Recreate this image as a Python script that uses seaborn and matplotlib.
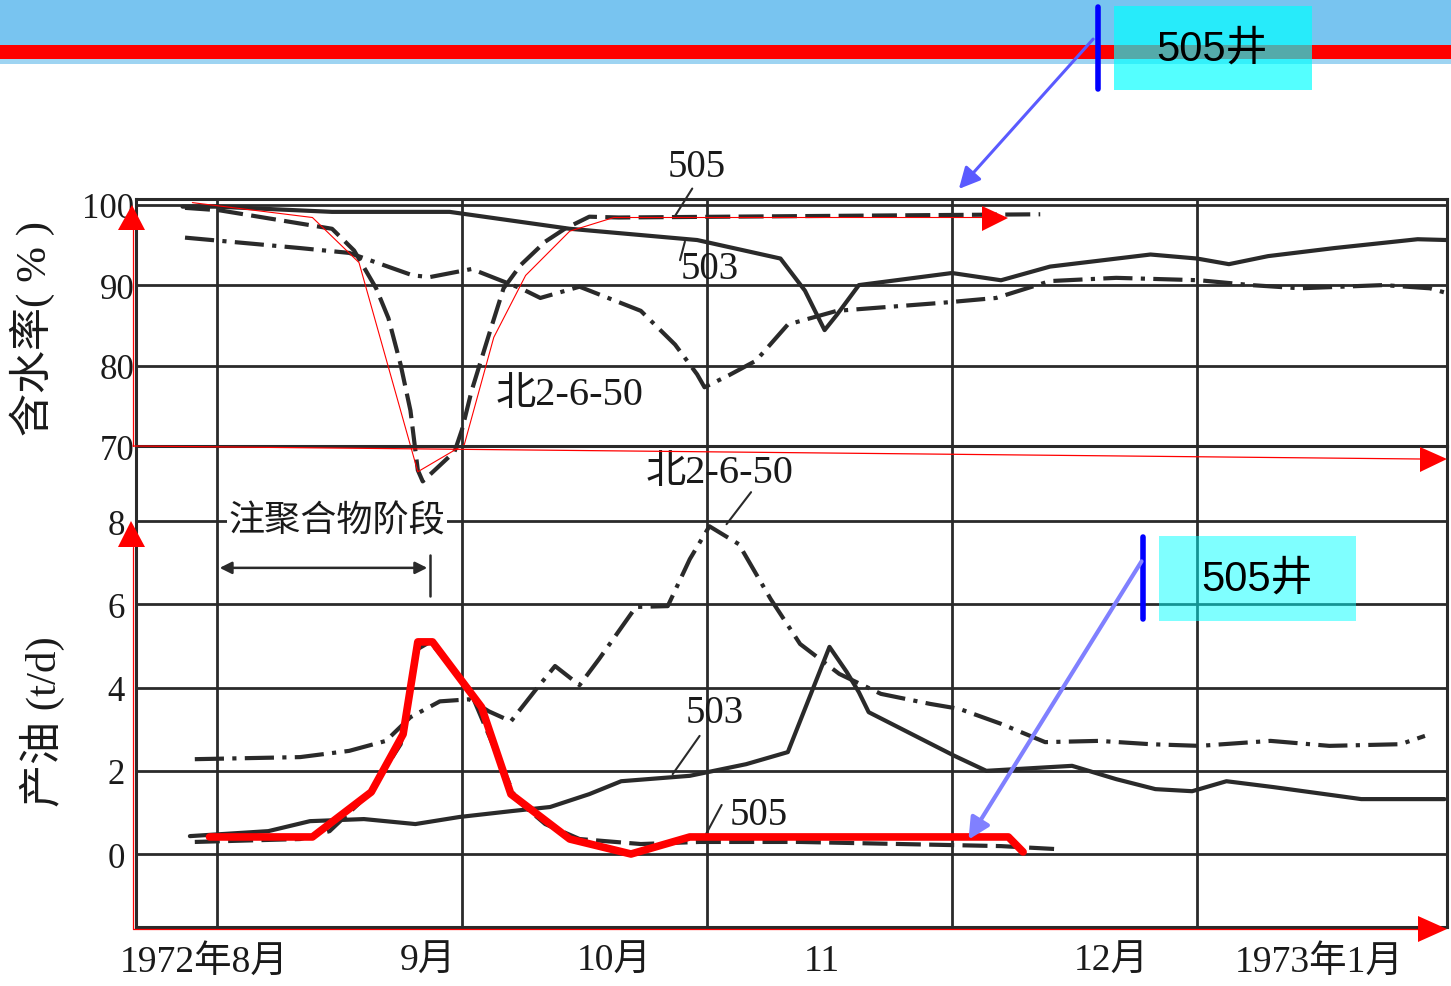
import numpy as np
import pandas as pd
import seaborn as sns
import matplotlib.pyplot as plt
from matplotlib.patches import Rectangle, Polygon

# x unit = one grid column (0 = the 1972-08 grid line)
month_pos = [-0.05, 0.86, 1.62, 2.47, 3.65, 4.50]
month_labels = ['1972年8月', '9月', '10月', '11', '12月', '1973年1月']
grid_x = [0, 1, 2, 3, 4]

# water cut (%) - upper panel
wc503_x = [-0.14, 0, 0.47, 0.95, 1.44, 1.96, 2.30, 2.40, 2.48, 2.53, 2.62, 3.0, 3.20, 3.40,
           3.81, 4.0, 4.13, 4.29, 4.56, 4.90, 5.02]
wc503_y = [99.75, 99.75, 99.1, 99.1, 97.0, 95.6, 93.3, 89.3, 84.4, 86.3, 90.0, 91.5, 90.6, 92.3,
           93.8, 93.3, 92.6, 93.6, 94.6, 95.7, 95.6]
wc505_x = [-0.13, 0.01, 0.47, 0.56, 0.65, 0.70, 0.75, 0.79, 0.82, 0.84, 0.97, 1.0, 1.04, 1.11,
           1.17, 1.24, 1.34, 1.42, 1.52, 1.64, 3.36]
wc505_y = [99.6, 99.3, 97.0, 94.3, 89.6, 85.9, 80.1, 74.4, 67.0, 65.6, 69.3, 72.0, 76.9, 83.8,
           89.6, 92.5, 95.4, 97.0, 98.5, 98.4, 98.8]
wcb_x = [-0.13, 0.34, 0.54, 0.80, 0.87, 1.04, 1.24, 1.32, 1.48, 1.73, 1.87, 1.96, 1.99, 2.09,
         2.20, 2.33, 2.53, 2.96, 3.18, 3.40, 3.67, 4.01, 4.22, 4.42, 4.76, 4.95, 5.02]
wcb_y = [95.9, 94.6, 94.0, 91.2, 91.0, 92.0, 89.6, 88.4, 89.8, 86.8, 82.6, 78.9, 77.3, 78.8,
         80.6, 85.1, 86.8, 87.8, 88.4, 90.5, 90.9, 90.6, 90.0, 89.6, 90.0, 89.6, 89.0]
# red hand trace of well 505
trace_x = [-0.10, 0.39, 0.58, 0.82, 1.01, 1.13, 1.26, 1.44, 1.62, 3.16]
trace_y = [100.25, 98.4, 92.8, 66.8, 70.2, 83.5, 91.2, 96.7, 98.4, 98.4]

# oil rate (t/d) - lower panel
oilb_x = [-0.09, 0.34, 0.54, 0.69, 0.79, 0.91, 1.03, 1.11, 1.20, 1.30, 1.38, 1.48, 1.56, 1.71,
          1.84, 1.93, 2.01, 2.13, 2.26, 2.38, 2.54, 2.71, 2.91, 3.03, 3.20, 3.38, 3.60, 3.81,
          4.01, 4.30, 4.54, 4.83, 4.93]
oilb_y = [2.28, 2.33, 2.48, 2.72, 3.29, 3.67, 3.72, 3.43, 3.19, 3.94, 4.52, 4.06, 4.69, 5.94,
          5.96, 7.09, 7.88, 7.45, 6.13, 5.05, 4.33, 3.85, 3.61, 3.49, 3.13, 2.69, 2.72, 2.64,
          2.60, 2.72, 2.60, 2.64, 2.84]
oil503_x = [-0.11, 0.21, 0.38, 0.60, 0.81, 0.99, 1.20, 1.36, 1.52, 1.65, 1.93, 2.16, 2.33, 2.50,
            2.57, 2.62, 2.66, 3.01, 3.14, 3.49, 3.67, 3.83, 3.98, 4.12, 4.31, 4.67, 5.01]
oil503_y = [0.43, 0.55, 0.79, 0.84, 0.72, 0.89, 1.03, 1.13, 1.44, 1.75, 1.88, 2.16, 2.45, 4.98,
            4.38, 3.89, 3.41, 2.36, 2.0, 2.12, 1.80, 1.56, 1.51, 1.75, 1.61, 1.32, 1.32]
oil505_x = [-0.09, 0.34, 0.46, 0.62, 0.75, 0.82, 0.87, 1.03, 1.16, 1.22, 1.34, 1.48, 1.73, 1.97,
            2.38, 2.79, 3.20, 3.42]
oil505_y = [0.29, 0.36, 0.55, 1.44, 2.64, 4.93, 5.10, 3.97, 2.16, 1.32, 0.72, 0.36, 0.24, 0.29,
            0.29, 0.24, 0.19, 0.12]
hl_x = [-0.03, 0.39, 0.63, 0.76, 0.82, 0.88, 1.08, 1.20, 1.44, 1.69, 1.93, 3.23, 3.29]
hl_y = [0.41, 0.41, 1.49, 2.88, 5.10, 5.10, 3.53, 1.44, 0.36, 0.0, 0.41, 0.41, 0.05]

sns.set_theme(style='white')
serif = ['Liberation Serif', 'Noto Sans CJK SC']
sans = ['Liberation Sans', 'Noto Sans CJK SC']
plt.rcParams['font.family'] = serif
ink = '#2a2a2a'
txt = '#1a1a1a'

W, H = 1451, 987
fig = plt.figure(figsize=(W / 100, H / 100), dpi=100)
fig.patch.set_facecolor('white')
left, width = 136 / W, 1311 / W
ax1 = fig.add_axes([left, 1 - 447 / H, width, 247 / H])
ax2 = fig.add_axes([left, 1 - 928 / H, width, 481 / H])

dash = (0, (6, 2))
dashdot = (0, (7, 2, 1, 2))
lw = 3.0

for ax in (ax1, ax2):
    ax.set_facecolor('none')
    ax.set_xlim(-0.33, 5.02)
    ax.set_xticks(grid_x, minor=True)
    ax.grid(which='minor', axis='x', color=ink, lw=2.0)
    ax.grid(which='major', axis='y', color=ink, lw=2.0)
    ax.tick_params(which='both', length=0, labelsize=25, colors=txt)
    for s in ax.spines.values():
        s.set_color(ink)
        s.set_linewidth(2.2)

# upper panel
ax1.set_ylim(70, 100.7)
ax1.set_yticks([70, 80, 90, 100])
ax1.set_xticks([])
ax1.tick_params(axis='y', pad=1)
sns.lineplot(x=wc503_x, y=wc503_y, ax=ax1, color=ink, lw=lw, sort=False, estimator=None)
sns.lineplot(x=wc505_x, y=wc505_y, ax=ax1, color=ink, lw=lw, linestyle=dash,
             sort=False, estimator=None, clip_on=False)
sns.lineplot(x=wcb_x, y=wcb_y, ax=ax1, color=ink, lw=lw, linestyle=dashdot,
             sort=False, estimator=None)
sns.lineplot(x=trace_x, y=trace_y, ax=ax1, color='red', lw=0.8, sort=False,
             estimator=None, clip_on=False)
ax1.set_ylabel('含水率( % )', fontsize=31, color=txt)
ax1.yaxis.set_label_coords(-0.062, 0.48)
ax1.text(1.96, 104.7, '505', fontsize=28, ha='center', va='center', color=txt)
ax1.plot([1.94, 1.87], [102.0, 98.6], color=ink, lw=1.5, clip_on=False)
ax1.text(2.01, 92.1, '503', fontsize=28, ha='center', va='center', color=txt)
ax1.plot([1.91, 1.89], [95.4, 93.1], color=ink, lw=1.5)
ax1.text(1.44, 76.4, '北2-6-50', fontsize=29, ha='center', va='center', color=txt)

# lower panel
ax2.set_ylim(-1.755, 9.81)
ax2.set_yticks([0, 2, 4, 6, 8])
ax2.spines['top'].set_visible(False)
ax2.tick_params(axis='y', pad=8)
ax2.tick_params(axis='x', pad=12, labelsize=27)
ax2.set_xticks(month_pos, labels=month_labels)
sns.lineplot(x=oilb_x, y=oilb_y, ax=ax2, color=ink, lw=lw, linestyle=dashdot,
             sort=False, estimator=None)
sns.lineplot(x=oil503_x, y=oil503_y, ax=ax2, color=ink, lw=lw, sort=False, estimator=None)
sns.lineplot(x=oil505_x, y=oil505_y, ax=ax2, color=ink, lw=lw, linestyle=dash,
             sort=False, estimator=None)
sns.lineplot(x=hl_x, y=hl_y, ax=ax2, color='red', lw=5.5, sort=False, estimator=None,
             zorder=5)
ax2.set_ylabel('产油 (t/d)', fontsize=31, color=txt)
ax2.yaxis.set_label_coords(-0.054, 0.43)
ax2.text(0.49, 8.0, '注聚合物阶段', fontsize=26, ha='center', va='center', color=txt,
         bbox=dict(facecolor='white', edgecolor='none', pad=1), zorder=4)
ax2.annotate('', xy=(0.0, 6.88), xytext=(0.87, 6.88),
             arrowprops=dict(arrowstyle='<|-|>', color=ink, lw=1.8, mutation_scale=18))
ax2.plot([0.87, 0.87], [7.2, 6.2], color=ink, lw=1.8)
ax2.text(2.05, 9.18, '北2-6-50', fontsize=29, ha='center', va='center', color=txt)
ax2.plot([2.18, 2.08], [8.7, 7.93], color=ink, lw=1.5)
ax2.text(2.03, 3.41, '503', fontsize=28, ha='center', va='center', color=txt)
ax2.plot([1.97, 1.86], [2.84, 1.92], color=ink, lw=1.5)
ax2.text(2.21, 0.96, '505', fontsize=28, ha='center', va='center', color=txt)
ax2.plot([2.06, 1.99], [1.18, 0.41], color=ink, lw=1.5)

# overlay in pixel coordinates for the slide decorations
ov = fig.add_axes([0, 0, 1, 1], zorder=10)
ov.set_xlim(0, W)
ov.set_ylim(H, 0)
ov.axis('off')
ov.patch.set_alpha(0)

ov.add_patch(Rectangle((0, 0), W, 46, color='#78C4F0', lw=0))
ov.add_patch(Rectangle((0, 46), W, 14, color='#FF0000', lw=0))
ov.add_patch(Rectangle((0, 60), W, 5, color='#9ED4F2', lw=0))

red = '#FF0000'
# red axis arrows
ov.plot([133, 133], [447, 230], color=red, lw=0.9)
ov.add_patch(Polygon([(118, 231), (145, 231), (132, 206)], color=red, lw=0))
ov.plot([133, 1420], [447, 460], color=red, lw=0.9)
ov.add_patch(Polygon([(1420, 448), (1420, 473), (1447, 460)], color=red, lw=0))
ov.add_patch(Polygon([(982, 207), (982, 232), (1008, 219)], color=red, lw=0))
ov.plot([133, 133], [930, 548], color=red, lw=0.9)
ov.add_patch(Polygon([(118, 548), (145, 548), (131, 522)], color=red, lw=0))
ov.plot([133, 1420], [930, 930], color=red, lw=0.9)
ov.add_patch(Polygon([(1418, 917), (1418, 943), (1447, 930)], color=red, lw=0))

# callouts
ov.add_patch(Rectangle((1114, 7), 198, 84, color='cyan', alpha=0.67, lw=0))
ov.plot([1098, 1098], [8, 90], color='#0000FF', lw=4)
ov.text(1212, 50, '505井', family=sans, fontsize=30, ha='center', va='center', color='black')
ov.annotate('', xy=(957, 192), xytext=(1095, 38),
            arrowprops=dict(arrowstyle='-|>', color='#5A5AFF', lw=2.2, mutation_scale=32))

ov.add_patch(Rectangle((1159, 537), 197, 85, color='cyan', alpha=0.5, lw=0))
ov.plot([1143, 1143], [538, 620], color='#0000FF', lw=4)
ov.text(1257, 580, '505井', family=sans, fontsize=30, ha='center', va='center', color='black')
ov.annotate('', xy=(967, 843), xytext=(1143, 560),
            arrowprops=dict(arrowstyle='-|>', color='#8080FF', lw=3, mutation_scale=32))

fig.savefig('out.png', dpi=100, facecolor='white')
